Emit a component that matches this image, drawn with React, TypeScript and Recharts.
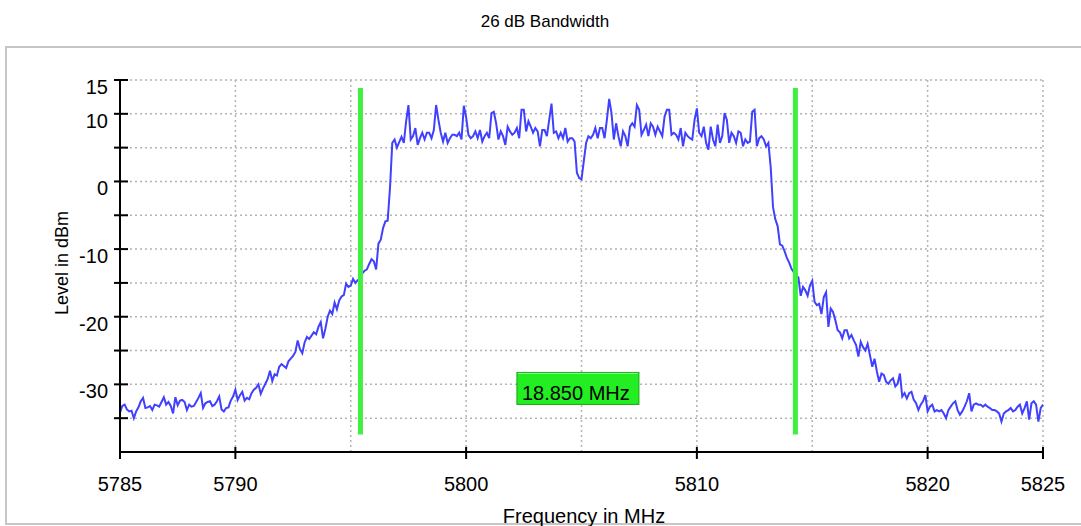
import { LineChart, Line, XAxis, YAxis, CartesianGrid, ReferenceLine, ReferenceDot } from 'recharts'

const FONT = '"Liberation Sans", Arial, Helvetica, sans-serif'

// sweep: 5785 MHz .. 5825 MHz, 401 points (0.1 MHz spacing)
const START_MHZ = 5785
const STEP_MHZ = 0.1

// trace values in dBm, split by region
const lowerFloorDbm = [
  -34.2, -33.2, -33.0, -33.7, -34.0, -33.9, -35.0, -34.0, -33.4, -32.5,
  -32.0, -33.5, -33.4, -33.2, -33.8, -33.0, -33.1, -33.3, -32.6, -31.9,
  -33.0, -32.6, -33.2, -34.3, -31.9, -33.1, -32.4, -32.3, -32.6, -33.8,
  -33.0, -33.3, -33.2, -32.6, -32.0, -31.3, -33.5, -32.8, -32.6, -32.5,
  -33.2, -33.0, -32.5, -31.8, -33.7, -34.0, -33.5, -33.4, -32.4, -31.8,
]
const lowerSkirtDbm = [
  -30.8, -32.3, -31.6, -31.1, -32.4, -32.0, -32.2, -31.3, -30.8, -30.5,
  -30.0, -31.4, -30.6, -29.9, -29.2, -28.0, -29.5, -28.5, -28.7, -27.4,
  -27.0, -27.3, -27.6, -26.6, -26.2, -25.8, -25.2, -23.5, -24.8, -25.4,
  -23.8, -23.0, -23.3, -22.8, -22.3, -22.6, -21.5, -20.8, -23.2, -21.8,
  -20.0, -19.1, -19.6, -17.9, -18.9, -17.6, -17.0, -16.8, -15.1, -15.6,
  -15.4, -14.4, -15.0, -14.6, -14.5, -13.6, -13.2, -13.0, -12.2, -11.5,
  -11.8, -13.0, -9.2, -8.6, -6.9, -5.9, -5.8, -1.0,
]
const passbandDbm = [
  5.7, 6.2,
  5.0, 5.8, 6.6, 5.7, 8.9, 11.3, 6.2, 6.7, 7.9, 5.4,
  6.4, 7.2, 6.2, 7.2, 7.2, 6.4, 7.6, 11.3, 9.1, 7.2,
  5.9, 7.2, 5.7, 6.4, 6.9, 6.9, 6.7, 7.2, 6.2, 11.2,
  9.5, 6.9, 6.4, 6.7, 7.4, 6.4, 7.6, 5.9, 6.7, 7.2,
  6.4, 10.1, 10.3, 8.6, 6.2, 7.4, 6.7, 5.4, 8.1, 7.4,
  6.9, 7.2, 7.9, 6.4, 10.6, 10.6, 7.4, 8.9, 8.1, 7.2,
  7.9, 7.4, 5.2, 7.6, 7.6, 6.7, 9.1, 11.5, 7.2, 7.4,
  6.4, 7.2, 6.4, 7.9, 5.9, 6.4, 6.4, 5.9, 1.3, 0.5,
  0.3, 3.0, 5.7, 6.7, 6.4, 6.9, 7.9, 6.4, 7.9, 7.9,
  6.4, 9.1, 12.2, 10.1, 6.2, 8.6, 6.7, 5.2, 7.4, 6.7,
  5.2, 8.1, 8.6, 8.1, 11.3, 10.6, 6.9, 7.6, 8.4, 6.7,
  8.6, 8.1, 6.9, 8.1, 7.4, 6.7, 9.6, 10.6, 10.6, 6.9,
  7.2, 6.9, 6.2, 7.9, 5.2, 7.2, 6.7, 6.4, 6.2, 9.1,
  10.8, 7.2, 6.7, 8.1, 5.7, 4.7, 8.1, 6.2, 5.2, 8.4,
  5.7, 6.7, 10.1, 9.1, 5.7, 7.2, 6.7, 5.7, 7.4, 7.2,
  5.2, 6.2, 5.7, 5.9, 10.3, 10.6, 5.2, 6.4, 6.7, 6.2,
  5.2, 5.7,
]
const upperSkirtDbm = [
  2.1, -3.8, -5.6, -6.6, -9.3, -9.5, -10.3, -11.3,
  -12.0, -12.9, -13.4, -13.9, -14.2, -16.9, -15.6, -16.1, -16.9, -15.4,
  -14.7, -17.8, -18.3, -18.1, -19.6, -17.1, -16.4, -21.5, -18.8, -19.3,
  -20.5, -22.0, -22.3, -23.2, -22.0, -22.0, -23.2, -22.7, -23.5, -24.2,
  -25.9, -23.7, -24.5, -25.0, -24.0, -25.7, -27.4, -26.2, -28.1, -29.6,
  -28.4, -28.6, -29.6, -29.9, -29.4, -29.1, -30.3, -29.9, -28.4, -31.8,
  -31.3, -32.1, -31.3, -31.1, -32.3, -32.8, -33.8, -33.0, -32.5, -31.6,
]
const upperFloorDbm = [
  -34.0, -33.3, -33.0, -34.0, -33.8, -34.0, -33.8, -34.3, -35.0, -33.8,
  -33.3, -32.8, -32.5, -33.8, -34.5, -34.0, -33.3, -32.5, -31.3, -34.0,
  -33.0, -32.8, -33.0, -33.0, -33.3, -33.0, -33.3, -33.5, -33.8, -33.8,
  -34.0, -34.3, -35.5, -34.3, -34.0, -33.8, -33.5, -34.0, -33.8, -33.3,
  -33.0, -34.3, -33.5, -32.5, -35.2, -32.8, -32.5, -33.0, -35.5, -33.5,
  -33.0,
]

const xTicks = [5785, 5790, 5795, 5800, 5805, 5810, 5815, 5820, 5825]
const xLabelled = [5785, 5790, 5800, 5810, 5820, 5825]
const yTicks = [-40, -35, -30, -25, -20, -15, -10, -5, 0, 5, 10, 15]
const yLabelled = [15, 10, 0, -10, -20, -30]

// 26 dB bandwidth markers
const markerLowMhz = 5795.42
const markerHighMhz = 5814.27
const markerTopDbm = 13.8
const markerBottomDbm = -37.4
const bandwidthLabel = '18.850 MHz'
const labelLevelDbm = -30.6

const levelDbm = [...lowerFloorDbm, ...lowerSkirtDbm, ...passbandDbm, ...upperSkirtDbm, ...upperFloorDbm]
const data = levelDbm.map((v, i) => ({ freq: +(START_MHZ + i * STEP_MHZ).toFixed(1), level: v }))

function XTick(props: any) {
  const { x, y, payload } = props
  const v = payload.value
  if (!xLabelled.includes(v)) return <g />
  return (
    <g>
      <line x1={x} x2={x} y1={y - 5} y2={y + 7} stroke="#000" strokeWidth={2} />
      <text x={x} y={y + 39} textAnchor="middle" fontSize={20} fontFamily={FONT} fill="#000">{v}</text>
    </g>
  )
}

function YTick(props: any) {
  const { x, y, payload } = props
  const v = payload.value
  if (v === -40) return <g />
  return (
    <g>
      <line x1={x - 6} x2={x + 8} y1={y} y2={y} stroke="#000" strokeWidth={2} />
      {yLabelled.includes(v) && (
        <text x={x - 12} y={y + 14} textAnchor="end" fontSize={20} fontFamily={FONT} fill="#000">{v}</text>
      )}
    </g>
  )
}

function BandwidthBox(p: any) {
  const { cx, cy } = p
  return (
    <g>
      <rect x={cx - 61} y={cy - 16} width={122} height={32} fill="#22ee22" stroke="#16a516" strokeWidth={1} />
      <line x1={cx - 60} x2={cx + 60} y1={cy - 15} y2={cy - 15} stroke="#8cff8c" strokeWidth={1} />
      <text x={cx - 56} y={cy + 12} fontSize={20} fontFamily={FONT} fill="#000">{bandwidthLabel}</text>
    </g>
  )
}

export default function App() {
  return (
    <div style={{ position: 'absolute', left: 0, top: 0, width: 1081, height: 526, background: '#fff', overflow: 'hidden' }}>
      <div style={{ position: 'absolute', left: 5, top: 46, width: 1100, height: 479, border: '2px solid #c6c6c6', boxSizing: 'border-box', background: '#fff' }} />
      <LineChart width={1081} height={526} data={data} margin={{ top: 80, right: 38, bottom: 34, left: 60 }} style={{ position: 'absolute', left: 0, top: 0 }}>
        <CartesianGrid stroke="#b4b4b4" strokeWidth={1.5} strokeDasharray="2 3" />
        <XAxis dataKey="freq" type="number" domain={[5785, 5825]} ticks={xTicks} interval={0} height={40}
          axisLine={{ stroke: '#000', strokeWidth: 2 }} tickLine={false} tickSize={0} tickMargin={0} tick={<XTick />} />
        <YAxis type="number" domain={[-40, 15]} ticks={yTicks} interval={0} width={60} allowDataOverflow
          axisLine={{ stroke: '#000', strokeWidth: 2 }} tickLine={false} tickSize={0} tickMargin={0} tick={<YTick />} />
        <Line type="linear" dataKey="level" stroke="#4040ff" strokeWidth={2} dot={false} isAnimationActive={false} />
        <ReferenceLine segment={[{ x: markerLowMhz, y: markerTopDbm }, { x: markerLowMhz, y: markerBottomDbm }]} stroke="#40f040" strokeWidth={5} />
        <ReferenceLine segment={[{ x: markerHighMhz, y: markerTopDbm }, { x: markerHighMhz, y: markerBottomDbm }]} stroke="#40f040" strokeWidth={5} />
        <ReferenceDot x={(markerLowMhz + markerHighMhz) / 2} y={labelLevelDbm} shape={<BandwidthBox />} />
      </LineChart>
      <svg width={1081} height={526} style={{ position: 'absolute', left: 0, top: 0, pointerEvents: 'none' }}>
        <text x={545} y={27} textAnchor="middle" fontSize={17} fontFamily={FONT} fill="#000">26 dB Bandwidth</text>
        <text x={68} y={263} textAnchor="middle" fontSize={18} fontFamily={FONT} fill="#000" transform="rotate(-90 68 263)">Level in dBm</text>
        <text x={584} y={523} textAnchor="middle" fontSize={20} fontFamily={FONT} fill="#000">Frequency in MHz</text>
      </svg>
    </div>
  )
}
